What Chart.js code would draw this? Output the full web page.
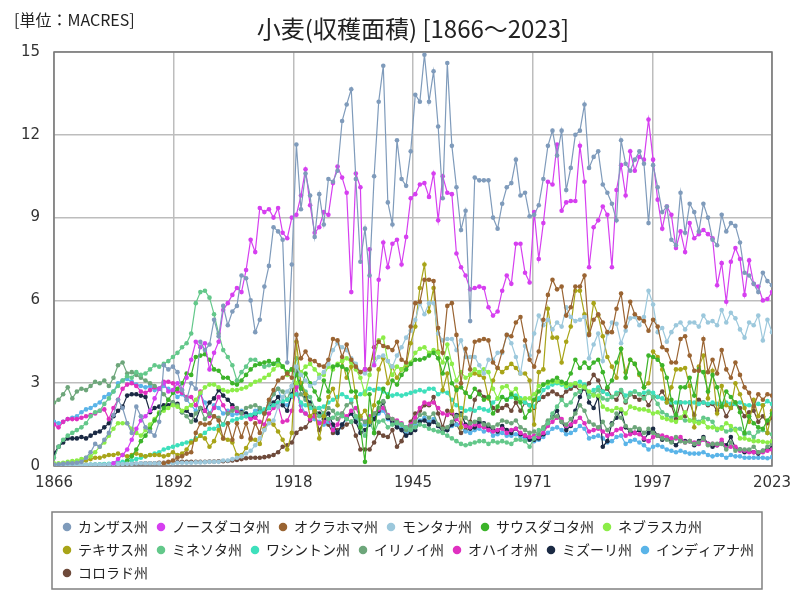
<!DOCTYPE html>
<html>
<head>
<meta charset="utf-8">
<script src="https://cdn.jsdelivr.net/npm/chart.js@4.4.0/dist/chart.umd.min.js"></script>
<style>
  body { margin: 0; background: #fff; }
</style>
</head>
<body>
<canvas id="myChart" width="800" height="600"></canvas>
<script>
const titleText = '小麦(収穫面積) [1866～2023]';
const unitText = '[単位：MACRES]';
const firstYear = 1866;
const lastYear = 2023;
let years = [];
for (let y = firstYear; y <= lastYear; y++) years.push(y);

const names = ['カンザス州', 'ノースダコタ州', 'オクラホマ州', 'モンタナ州', 'サウスダコタ州', 'ネブラスカ州',
    'テキサス州', 'ミネソタ州', 'ワシントン州', 'イリノイ州', 'オハイオ州', 'ミズーリ州', 'インディアナ州', 'コロラド州'];
const colors = ['#7f9bbb', '#d63ff0', '#9a6432', '#9cc8dc', '#3cb42a', '#8ced48',
    '#a8a418', '#63c88a', '#3ee0bc', '#6da67a', '#e030c0', '#1b2a44', '#5ab4e8', '#6e4a3a'];

// one row = 10 years, first row starts 1866
const kansas = [
    0.05, 0.06, 0.08, 0.1, 0.1, 0.12, 0.15, 0.3, 0.5, 0.8,
    0.7, 0.95, 1.2, 1.85, 2.4, 2.1, 1.55, 1.2, 2.15, 1.8,
    1.4, 1.25, 1.1, 1.6, 3.65, 3.5, 3.6, 3.4, 2.75, 2.4,
    3.0, 2.8, 4.5, 4.2, 4.4, 5.3, 4.7, 5.8, 5.1, 5.6,
    5.8, 6.9, 6.8, 6.0, 4.85, 5.3, 6.5, 7.25, 8.65, 8.5,
    8.2, 3.75, 7.3, 11.65, 9.3, 10.6, 9.8, 8.3, 9.85, 8.75,
    10.4, 10.3, 10.7, 12.5, 13.1, 13.65, 10.4, 7.4, 8.6, 6.9,
    10.5, 13.2, 14.5, 9.55, 8.75, 11.8, 10.4, 10.15, 11.4, 13.45,
    13.2, 14.9, 13.2, 14.3, 12.3, 9.7, 14.6, 11.6, 10.1, 8.55,
    9.25, 5.25, 10.45, 10.35, 10.35, 10.35, 9.0, 8.6, 9.5, 10.1,
    10.25, 11.1, 9.8, 9.9, 9.05, 9.1, 9.45, 10.4, 11.6, 12.15,
    11.25, 12.15, 10.0, 10.8, 12.0, 12.15, 13.1, 10.8, 11.2, 11.4,
    10.2, 9.9, 9.5, 8.9, 11.8, 10.95, 10.7, 11.1, 11.4, 10.95,
    8.8, 10.9, 10.1, 9.2, 9.4, 8.2, 8.0, 9.9, 8.45, 9.5,
    9.2, 8.5, 9.5, 9.0, 8.2, 8.0, 9.1, 8.5, 8.8, 8.7,
    8.1, 7.0, 6.9, 6.6, 6.3, 7.0, 6.7, 6.55];
const northDakota = [
    null, null, null, null, null, null, null, null, null, null,
    null, null, null, 0.1, 0.25, 0.4, 0.6, 0.95, 1.35, 1.65,
    1.8, 2.0, 2.45, 2.8, 3.0, 2.7, 2.75, 3.0, 2.75, 3.2,
    3.85, 4.5, 4.3, 4.45, 3.5, 4.1, 4.5, 5.65, 5.9, 6.2,
    6.45, 6.3, 7.1, 8.2, 7.75, 9.35, 9.2, 9.3, 9.0, 9.35,
    8.45, 8.25, 9.0, 9.1, 9.8, 10.75, 9.45, 8.45, 8.65, 9.2,
    9.1, 10.25, 10.85, 10.45, 9.9, 6.3, 10.6, 10.1, 3.5, 7.85,
    3.65, 6.75, 8.1, 7.2, 8.05, 8.2, 7.3, 8.3, 9.7, 9.85,
    10.2, 10.25, 9.75, 10.6, 8.9, 10.5, 9.9, 9.85, 7.7, 7.2,
    6.9, 6.4, 6.45, 6.5, 6.45, 5.75, 5.45, 5.6, 6.35, 6.9,
    6.6, 8.05, 8.05, 7.0, 6.65, 9.2, 7.5, 8.8, 10.3, 10.2,
    11.65, 9.25, 9.55, 9.6, 9.6, 11.6, 10.3, 7.2, 8.65, 8.9,
    9.4, 9.1, 7.2, 10.0, 10.9, 9.8, 11.4, 10.7, 11.2, 11.1,
    12.55, 11.1, 9.65, 8.6, 9.4, 9.1, 7.9, 8.5, 7.75, 8.8,
    8.25, 8.4, 8.55, 8.4, 8.25, 6.55, 7.35, 5.95, 7.4, 7.9,
    7.5, 6.2, 7.45, 6.6, 6.5, 6.0, 6.05, 6.3];
const oklahoma = [
    null, null, null, null, null, null, null, null, null, null,
    null, null, null, null, null, null, null, null, null, null,
    null, null, null, null, 0.1, 0.15, 0.2, 0.3, 0.35, 0.45,
    0.5, 1.2, 1.55, 1.5, 1.55, 1.8, 1.65, 1.0, 1.55, 0.95,
    1.55, 1.05, 1.55, 1.0, 1.55, 1.2, 1.9, 2.4, 2.75, 3.1,
    3.2, 3.35, 3.2, 4.75, 3.9, 4.15, 3.85, 3.8, 3.65, 3.6,
    3.85, 4.6, 4.55, 3.95, 4.4, 3.85, 3.6, 3.4, 3.5, 3.5,
    4.3, 4.5, 4.35, 4.3, 4.2, 4.5, 3.85, 3.75, 5.05, 5.9,
    5.95, 6.75, 6.75, 6.7, 5.0, 4.1, 5.8, 5.9, 4.75, 3.0,
    4.25, 3.5, 4.5, 4.55, 4.6, 4.55, 3.75, 3.55, 4.15, 4.75,
    4.7, 5.2, 5.4, 4.55, 3.85, 3.6, 4.15, 5.3, 6.2, 6.75,
    6.4, 6.5, 5.45, 5.75, 6.5, 6.5, 6.9, 4.75, 5.3, 5.5,
    5.2, 4.85, 4.85, 5.7, 6.25, 5.05, 5.95, 5.5, 5.35, 5.25,
    4.9, 5.3, 5.05, 4.3, 4.2, 3.75, 3.75, 4.6, 4.7, 4.0,
    3.45, 3.45, 4.6, 3.4, 3.85, 3.35, 4.2, 3.5, 3.2, 3.75,
    3.3, 2.85, 2.65, 2.15, 2.6, 2.4, 2.6, 2.55];
const montana = [
    0.02, 0.02, 0.02, 0.03, 0.03, 0.03, 0.04, 0.04, 0.05, 0.05,
    0.05, 0.05, 0.06, 0.06, 0.07, 0.07, 0.08, 0.08, 0.09, 0.1,
    0.1, 0.1, 0.1, 0.1, 0.1, 0.1, 0.1, 0.12, 0.12, 0.12,
    0.12, 0.13, 0.13, 0.14, 0.15, 0.15, 0.15, 0.2, 0.2, 0.25,
    0.3, 0.35, 0.45, 0.55, 0.75, 1.0, 1.3, 1.55, 1.65, 2.15,
    2.5, 2.7, 2.9, 3.6, 3.3, 3.1, 2.9, 3.0, 3.2, 3.4,
    3.7, 4.2, 4.45, 4.3, 4.2, 3.9, 3.7, 3.4, 3.35, 3.5,
    3.7, 3.95, 4.0, 3.8, 3.6, 4.0, 4.3, 4.65, 4.9, 5.3,
    5.9, 5.5, 5.9, 5.9, 4.8, 4.55, 4.6, 4.6, 4.2, 4.55,
    3.95, 3.95, 3.95, 3.65, 3.35, 3.85, 3.85, 4.1, 4.1, 4.75,
    4.45, 3.95, 3.35, 4.35, 4.0, 4.8, 5.45, 5.1, 5.3, 4.95,
    5.2, 5.05, 5.75, 5.4, 5.25, 5.3, 5.4, 3.9, 4.4, 4.8,
    3.8, 4.8, 5.2, 5.15, 4.45, 4.9, 5.35, 5.4, 5.1, 5.4,
    6.35, 5.85, 4.85, 5.0, 4.5, 4.85, 5.1, 5.2, 4.95, 5.2,
    5.2, 5.05, 5.45, 5.2, 5.25, 5.1, 5.65, 5.2, 5.55, 5.35,
    4.95, 4.65, 5.2, 5.1, 5.45, 4.55, 5.3, 4.85];
const southDakota = [
    null, null, null, null, null, null, null, null, null, null,
    null, null, null, null, null, null, 0.2, 0.35, 0.6, 0.9,
    1.1, 1.35, 1.65, 1.9, 2.1, 2.4, 2.65, 2.8, 3.0, 3.35,
    3.3, 3.95, 4.0, 4.05, 3.85, 3.5, 3.45, 3.2, 3.2, 3.0,
    2.95, 3.1, 3.3, 3.5, 3.65, 3.7, 3.75, 3.8, 3.7, 3.85,
    3.6, 3.4, 3.5, 3.3, 2.8, 3.35, 3.0, 2.7, 2.4, 3.1,
    2.7, 3.6, 3.65, 3.6, 3.5, 2.7, 2.7, 1.4, 0.15, 2.6,
    1.2, 2.3, 2.8, 2.5, 3.1, 2.95, 3.3, 3.5, 3.7, 3.85,
    3.85, 3.9, 4.0, 4.1, 3.9, 3.35, 3.9, 3.0, 2.75, 2.85,
    2.65, 2.5, 2.8, 2.6, 2.4, 2.5, 1.9, 2.15, 2.5, 2.4,
    2.6, 2.45, 2.3, 1.75, 2.0, 2.4, 2.7, 2.95, 3.05, 3.1,
    3.2, 3.05, 3.0, 3.35, 3.85, 3.55, 3.75, 3.55, 3.75, 3.85,
    3.4, 2.85, 3.1, 3.75, 4.25, 3.2, 3.85, 3.7, 3.35, 2.85,
    4.0, 3.95, 3.85, 3.65, 3.2, 2.4, 1.85, 2.85, 2.85, 3.2,
    2.55, 3.5, 3.4, 2.7, 3.3, 2.85, 2.15, 2.7, 2.5, 2.3,
    1.95, 1.2, 1.8, 1.55, 1.4, 1.35, 1.65, 1.9];
const nebraska = [
    0.1, 0.1, 0.12, 0.15, 0.18, 0.2, 0.25, 0.3, 0.35, 0.5,
    0.7, 0.85, 1.1, 1.35, 1.55, 1.55, 1.55, 1.35, 1.2, 1.1,
    1.3, 1.5, 1.7, 1.95, 2.0, 2.1, 2.2, 2.15, 2.0, 2.1,
    2.2, 2.4, 2.65, 2.85, 2.95, 2.95, 2.85, 2.75, 2.7, 2.75,
    2.75, 2.8, 2.85, 2.95, 3.05, 3.1, 3.2, 3.3, 3.5, 3.65,
    3.6, 3.3, 3.5, 3.0, 3.4, 3.6, 3.7, 3.5, 3.3, 3.3,
    3.6, 3.5, 3.7, 3.8, 3.9, 3.75, 3.5, 3.2, 2.6, 3.3,
    3.9, 4.55, 4.65, 3.8, 3.3, 3.6, 3.5, 3.7, 3.75, 4.1,
    4.25, 4.3, 4.1, 4.2, 4.1, 3.75, 4.4, 3.7, 3.1, 3.4,
    3.2, 3.3, 3.5, 3.4, 3.5, 3.4, 2.8, 2.45, 2.85, 2.9,
    2.65, 2.8, 2.4, 2.45, 2.45, 2.6, 2.9, 2.95, 3.0, 3.05,
    3.05, 3.0, 2.9, 2.95, 3.0, 2.9, 2.85, 2.7, 2.55, 2.55,
    2.15, 2.05, 2.0, 2.1, 2.05, 1.9, 2.15, 2.1, 2.05, 2.05,
    2.0, 1.9, 1.95, 1.75, 1.7, 1.65, 1.6, 1.75, 1.95, 1.65,
    1.6, 1.55, 1.6, 1.4, 1.4, 1.35, 1.35, 1.55, 1.45, 1.3,
    1.0, 1.0, 0.95, 0.9, 0.9, 0.88, 0.85, 0.9];
const texas = [
    0.05, 0.06, 0.08, 0.1, 0.12, 0.15, 0.15, 0.2, 0.25, 0.3,
    0.3, 0.35, 0.4, 0.4, 0.45, 0.4, 0.35, 0.4, 0.45, 0.4,
    0.35, 0.4, 0.4, 0.4, 0.35, 0.4, 0.5, 0.4, 0.45, 0.6,
    0.85, 0.95, 1.1, 1.0, 0.7, 0.9, 1.3, 1.0, 0.95, 0.85,
    0.4, 0.4, 0.65, 0.95, 0.95, 0.8, 1.35, 1.65, 1.5, 1.25,
    0.95, 0.6, 1.2, 4.5, 3.0, 2.6, 1.8, 2.0, 1.0, 1.8,
    2.5, 2.8, 2.2, 3.8, 3.2, 3.6, 2.5, 1.8, 2.0, 1.6,
    2.2, 3.5, 3.9, 3.0, 3.6, 3.2, 3.5, 3.65, 4.45, 5.05,
    6.45, 7.3, 5.6, 6.45, 4.15, 2.75, 3.35, 2.0, 2.85, 1.4,
    2.65, 3.3, 3.35, 3.3, 3.2, 2.45, 3.1, 3.55, 3.4, 3.55,
    3.7, 3.55, 3.35, 3.35, 3.1, 1.5, 3.4, 3.5, 5.7, 4.65,
    4.65, 3.75, 4.5, 5.05, 6.35, 6.35, 5.5, 4.8, 5.9, 5.45,
    4.7, 3.95, 3.6, 3.2, 4.25, 3.4, 3.85, 3.7, 3.3, 2.85,
    3.0, 4.15, 3.95, 3.5, 2.3, 2.85, 3.5, 3.5, 3.55, 2.9,
    1.4, 3.6, 4.0, 2.45, 3.45, 1.9, 2.9, 2.2, 2.1, 3.0,
    2.6, 2.1, 1.6, 2.4, 1.8, 2.2, 1.2, 2.0];
const minnesota = [
    0.3, 0.7, 0.95, 1.1, 1.2, 1.3, 1.4, 1.55, 1.8, 1.95,
    2.0, 2.25, 2.45, 2.7, 2.9, 3.1, 3.25, 3.2, 3.4, 3.3,
    3.35, 3.5, 3.65, 3.6, 3.7, 3.8, 3.95, 4.1, 4.3, 4.45,
    4.8, 5.9, 6.3, 6.35, 6.1, 5.5, 4.8, 4.2, 3.95, 3.65,
    3.1, 3.4, 3.6, 3.85, 3.85, 3.7, 3.6, 3.65, 3.7, 3.75,
    3.6, 3.4, 3.5, 3.9, 3.0, 2.7, 2.5, 2.1, 1.8, 1.9,
    1.7, 1.75, 1.9, 1.8, 1.7, 1.6, 1.8, 1.5, 1.1, 1.6,
    1.2, 1.6, 1.65, 1.4, 1.5, 1.55, 1.5, 1.4, 1.3, 1.4,
    1.5, 1.45, 1.35, 1.3, 1.25, 1.2, 1.1, 1.0, 0.9, 0.8,
    0.75, 0.8, 0.85, 0.9, 0.9, 0.8, 0.9, 0.85, 0.9, 0.85,
    0.8, 0.95, 0.95, 0.9, 0.7, 1.0, 1.3, 1.35, 1.55, 1.9,
    2.15, 2.4, 2.2, 2.3, 2.6, 2.7, 2.9, 2.5, 2.6, 2.75,
    2.45, 2.4, 2.5, 2.6, 2.75, 2.35, 2.6, 2.7, 2.6, 2.45,
    2.65, 2.5, 2.25, 1.95, 1.85, 1.75, 1.85, 1.75, 1.65, 1.65,
    1.7, 1.6, 1.75, 1.7, 1.6, 1.3, 1.4, 1.25, 1.3, 1.35,
    1.35, 1.15, 1.2, 1.05, 1.25, 1.3, 1.2, 1.15];
const washington = [
    0.01, 0.01, 0.02, 0.02, 0.02, 0.03, 0.03, 0.04, 0.05, 0.05,
    0.06, 0.07, 0.08, 0.1, 0.12, 0.15, 0.18, 0.2, 0.25, 0.3,
    0.35, 0.4, 0.45, 0.5, 0.6, 0.65, 0.7, 0.75, 0.8, 0.85,
    0.9, 1.0, 1.1, 1.2, 1.35, 1.35, 1.45, 1.5, 1.55, 1.65,
    1.7, 1.75, 1.8, 1.85, 1.9, 1.95, 2.05, 2.1, 2.2, 2.3,
    2.35, 2.4, 2.55, 2.6, 2.3, 2.2, 2.1, 2.0, 2.1, 2.15,
    2.3, 2.4, 2.5, 2.6, 2.5, 2.4, 2.5, 2.6, 2.7, 2.8,
    2.75, 2.8, 2.7, 2.6, 2.55, 2.6, 2.55, 2.6, 2.65, 2.7,
    2.75, 2.7, 2.8, 2.8, 2.6, 2.7, 2.65, 2.4, 2.2, 2.1,
    2.0, 2.05, 2.0, 2.1, 2.05, 2.0, 2.3, 2.45, 2.5, 2.4,
    2.5, 2.55, 2.45, 2.3, 2.2, 2.15, 2.45, 2.75, 2.85, 2.95,
    3.0, 2.95, 2.85, 2.9, 3.0, 3.05, 2.95, 2.65, 2.75, 2.85,
    2.7, 2.6, 2.5, 2.65, 2.75, 2.55, 2.65, 2.7, 2.6, 2.65,
    2.7, 2.65, 2.5, 2.45, 2.3, 2.3, 2.3, 2.3, 2.3, 2.3,
    2.3, 2.25, 2.3, 2.25, 2.3, 2.25, 2.25, 2.3, 2.25, 2.25,
    2.3, 2.2, 2.2, 2.2, 2.25, 2.2, 2.35, 2.25];
const illinois = [
    2.3, 2.4, 2.6, 2.85, 2.45, 2.7, 2.8, 2.75, 2.9, 3.05,
    3.0, 3.1, 2.9, 3.2, 3.65, 3.75, 3.35, 3.4, 3.3, 3.2,
    3.1, 3.0, 2.9, 2.8, 2.6, 2.4, 2.3, 2.2, 1.95, 1.8,
    1.6, 1.9, 2.1, 1.7, 1.9, 1.8, 1.75, 1.5, 1.9, 2.0,
    2.1, 1.9, 2.1, 2.15, 2.2, 2.1, 1.9, 2.3, 2.6, 2.8,
    2.7, 2.4, 2.9, 3.5, 2.6, 2.4, 2.2, 2.0, 2.1, 1.9,
    2.1, 2.0, 1.7, 1.9, 2.2, 2.3, 1.8, 1.7, 1.6, 1.7,
    1.9, 2.1, 2.35, 1.8, 1.7, 1.6, 1.5, 1.3, 1.45, 1.6,
    1.85, 1.9, 1.75, 1.9, 1.5, 1.35, 1.4, 1.6, 1.8, 1.85,
    1.75, 1.55, 1.6, 1.7, 1.5, 1.5, 1.4, 1.5, 1.65, 1.6,
    1.55, 1.65, 1.4, 1.3, 1.2, 1.25, 1.15, 1.4, 1.65, 1.75,
    1.8, 1.6, 1.5, 1.7, 1.9, 2.2, 2.0, 1.6, 1.5, 1.4,
    1.6, 1.3, 1.5, 1.9, 1.75, 1.45, 1.3, 1.4, 1.35, 1.2,
    1.35, 1.2, 1.1, 1.0, 0.95, 0.85, 1.05, 0.9, 0.85, 0.9,
    0.8, 0.85, 1.0, 0.75, 0.8, 0.8, 0.8, 0.6, 0.85, 0.55,
    0.6, 0.6, 0.6, 0.7, 0.5, 0.55, 0.7, 0.8];
const ohio = [
    1.5, 1.4, 1.6, 1.7, 1.7, 1.7, 1.75, 1.8, 1.85, 1.9,
    2.0, 2.05, 1.7, 2.1, 2.4, 2.8, 2.95, 3.0, 2.9, 2.7,
    2.65, 2.75, 2.85, 2.8, 3.05, 3.05, 3.0, 2.7, 2.65, 2.5,
    2.5, 2.2, 2.7, 2.0, 1.8, 2.1, 2.5, 2.2, 1.9, 2.1,
    2.0, 1.9, 1.8, 1.7, 1.75, 1.6, 1.5, 1.9, 2.1, 2.2,
    1.6, 1.65, 2.0, 2.85, 2.0, 1.9, 1.7, 1.8, 1.55, 1.6,
    1.7, 1.3, 1.5, 1.9, 1.8, 2.0, 2.1, 1.75, 1.6, 1.8,
    1.9, 2.05, 2.1, 1.85, 1.7, 1.65, 1.55, 1.4, 1.5, 1.75,
    2.1, 2.3, 2.25, 2.3, 2.1, 1.9, 1.85, 1.95, 1.7, 1.55,
    1.45, 1.4, 1.5, 1.45, 1.4, 1.3, 1.25, 1.3, 1.35, 1.2,
    1.3, 1.35, 1.2, 1.1, 1.05, 1.1, 1.05, 1.2, 1.45, 1.6,
    1.75, 1.7, 1.45, 1.5, 1.6, 1.75, 1.55, 1.25, 1.3, 1.35,
    1.25, 1.1, 1.15, 1.3, 1.35, 1.1, 1.15, 1.2, 1.15, 1.0,
    0.9, 1.05, 1.1, 1.1, 1.05, 1.0, 1.0, 1.05, 0.85, 0.9,
    0.85, 0.8, 0.95, 0.8, 0.8, 0.75, 0.95, 0.65, 0.7, 0.7,
    0.55, 0.55, 0.5, 0.5, 0.5, 0.5, 0.55, 0.6];
const missouri = [
    0.45, 0.7, 0.85, 1.0, 1.0, 1.0, 1.05, 1.0, 1.1, 1.2,
    1.25, 1.4, 1.55, 1.8, 2.0, 2.15, 2.55, 2.6, 2.6, 2.55,
    2.5, 1.95, 2.1, 2.15, 2.2, 2.2, 2.3, 2.25, 1.95, 2.0,
    1.85, 1.65, 2.1, 2.0, 2.3, 2.45, 2.75, 2.55, 2.4, 2.2,
    2.0, 1.95, 1.9, 1.75, 1.8, 2.0, 1.95, 2.1, 2.3, 2.5,
    2.2, 2.0, 2.6, 3.4, 2.9, 2.5, 2.3, 2.0, 1.9, 1.7,
    1.9, 1.5, 1.2, 1.5, 1.75, 1.9, 1.6, 1.2, 1.3, 1.5,
    1.7, 2.0, 2.3, 1.75, 1.6, 1.4, 1.3, 1.1, 1.2, 1.3,
    1.6, 1.65, 1.5, 1.6, 1.45, 1.25, 1.3, 1.5, 1.85, 1.9,
    1.5, 1.35, 1.4, 1.6, 1.55, 1.4, 1.35, 1.25, 1.45, 1.3,
    1.2, 1.35, 1.15, 1.1, 0.95, 0.95, 1.0, 1.15, 1.6, 1.8,
    2.0, 1.6, 1.3, 1.45, 2.0, 2.5, 2.9, 2.3, 2.1, 2.5,
    0.7, 0.9, 1.55, 1.75, 2.0, 1.4, 1.25, 1.2, 1.3, 0.95,
    1.2, 1.35, 1.1, 0.95, 1.0, 0.9, 0.75, 0.95, 0.9, 0.9,
    0.75, 0.9, 1.05, 0.8, 0.7, 0.75, 0.85, 0.75, 1.05, 0.65,
    0.6, 0.5, 0.55, 0.5, 0.45, 0.55, 0.6, 0.65];
const indiana = [
    1.6, 1.55, 1.6, 1.7, 1.75, 1.8, 1.95, 2.05, 2.1, 2.2,
    2.3, 2.5, 2.6, 2.7, 3.0, 3.1, 3.15, 3.05, 2.95, 2.9,
    2.85, 2.9, 2.75, 2.8, 2.9, 2.8, 2.7, 2.5, 2.6, 2.4,
    2.2, 2.0, 2.6, 2.3, 1.9, 2.2, 2.1, 1.9, 2.0, 1.85,
    1.9, 2.0, 1.9, 1.85, 2.0, 2.1, 1.9, 2.2, 2.6, 2.8,
    2.3, 2.2, 2.5, 2.9, 2.2, 1.9, 1.8, 1.7, 1.6, 1.5,
    1.6, 1.4, 1.2, 1.5, 1.7, 1.9, 1.7, 1.4, 1.5, 1.6,
    1.75, 1.9, 2.0, 1.7, 1.55, 1.5, 1.35, 1.2, 1.3, 1.5,
    1.65, 1.75, 1.6, 1.7, 1.45, 1.25, 1.3, 1.45, 1.5, 1.4,
    1.25, 1.2, 1.3, 1.35, 1.25, 1.3, 1.1, 1.15, 1.2, 1.1,
    1.1, 1.15, 1.05, 1.0, 0.95, 0.9, 0.95, 1.05, 1.2, 1.35,
    1.4, 1.3, 1.15, 1.2, 1.3, 1.45, 1.35, 1.0, 1.05, 1.1,
    1.0, 0.85, 0.9, 1.05, 1.1, 0.8, 0.9, 0.95, 0.85, 0.75,
    0.6, 0.7, 0.75, 0.7, 0.6, 0.55, 0.5, 0.55, 0.5, 0.45,
    0.45, 0.45, 0.5, 0.4, 0.35, 0.4, 0.4, 0.3, 0.4, 0.35,
    0.35, 0.3, 0.3, 0.3, 0.3, 0.3, 0.28, 0.32];
const colorado = [
    0.01, 0.01, 0.01, 0.02, 0.02, 0.02, 0.03, 0.03, 0.03, 0.04,
    0.04, 0.05, 0.05, 0.06, 0.06, 0.07, 0.07, 0.08, 0.08, 0.09,
    0.1, 0.1, 0.1, 0.12, 0.12, 0.12, 0.13, 0.14, 0.15, 0.15,
    0.15, 0.15, 0.15, 0.15, 0.16, 0.16, 0.17, 0.17, 0.18, 0.2,
    0.22, 0.25, 0.28, 0.3, 0.3, 0.3, 0.32, 0.35, 0.4, 0.5,
    0.7, 0.75, 0.85, 1.2, 1.35, 1.4, 1.65, 1.9, 1.3, 1.6,
    1.5, 1.2, 1.3, 1.4, 1.5, 1.6, 1.1, 0.6, 0.6, 0.6,
    0.85, 1.2, 1.1, 1.05, 1.3, 0.7, 0.9, 1.3, 1.6, 1.9,
    2.0, 2.2, 2.2, 2.5, 1.9, 1.4, 2.0, 1.9, 1.5, 1.2,
    1.3, 1.6, 2.4, 2.7, 2.5, 2.5, 2.1, 2.0, 2.1, 2.2,
    2.0, 2.3, 2.0, 2.3, 2.2, 2.1, 2.4, 2.5, 2.6, 2.7,
    2.6, 2.5, 2.7, 2.8, 2.9, 2.7, 2.8, 3.0, 3.3, 3.1,
    2.7, 2.8, 2.5, 2.4, 2.7, 2.3, 2.6, 2.5, 2.4, 2.5,
    2.2, 2.5, 2.5, 2.7, 2.4, 2.2, 1.7, 2.3, 1.8, 2.3,
    1.85, 2.4, 2.3, 2.2, 2.25, 2.0, 2.2, 1.8, 2.1, 2.3,
    2.1, 1.8, 1.95, 2.0, 1.6, 1.8, 1.55, 1.75];

const series = [kansas, northDakota, oklahoma, montana, southDakota, nebraska,
    texas, minnesota, washington, illinois, ohio, missouri, indiana, colorado];

const datasets = series.map((vals, i) => ({
    label: names[i],
    data: vals.map((v, j) => ({x: years[j], y: v})),
    borderColor: colors[i],
    backgroundColor: colors[i],
    borderWidth: 1.2,
    pointRadius: 2.3,
    pointBorderWidth: 0,
    pointBackgroundColor: colors[i],
}));

// frame, legend box, title and unit text
const decor = {
    id: 'decor',
    beforeDatasetsDraw(chart) {
        const c = chart.ctx, a = chart.chartArea;
        c.save();
        c.strokeStyle = '#777';
        c.lineWidth = 1.5;
        c.strokeRect(a.left, a.top, a.right - a.left, a.bottom - a.top);
        c.restore();
    },
    afterDraw(chart) {
        const c = chart.ctx, a = chart.chartArea, lg = chart.legend;
        c.save();
        let right = 0;
        lg.legendHitBoxes.forEach(h => { right = Math.max(right, h.left + h.width); });
        c.strokeStyle = '#808080';
        c.lineWidth = 1.5;
        c.strokeRect(lg.left - 2, lg.top + 1, right - lg.left + 10, lg.height - 2);
        c.fillStyle = '#222';
        c.textBaseline = 'middle';
        c.textAlign = 'center';
        c.font = '24px "Noto Sans CJK JP"';
        c.fillText(titleText, (a.left + a.right) / 2, 29);
        c.textAlign = 'left';
        c.font = '16px "Noto Sans CJK JP"';
        c.fillText(unitText, 14, 20);
        c.restore();
    }
};

const ctx = document.getElementById('myChart');
let myChart = new Chart(ctx, {
    type: 'line',
    data: { datasets: datasets },
    options: {
        responsive: false,
        animation: false,
        devicePixelRatio: 1,
        layout: { padding: { top: 52, right: 28, bottom: 10, left: 0 } },
        scales: {
            x: {
                type: 'linear',
                min: firstYear,
                max: lastYear,
                afterBuildTicks: (s) => {
                    s.ticks = [0, 1, 2, 3, 4, 5, 6].map(i => ({ value: firstYear + i * (lastYear - firstYear) / 6 }));
                },
                afterFit: (s) => { s.height = 45; },
                grid: { color: '#bdbdbd', lineWidth: 1.5, drawTicks: false },
                border: { display: false },
                ticks: {
                    autoSkip: false, maxRotation: 0, padding: 8, color: '#333',
                    font: { family: 'DejaVu Sans', size: 15 },
                    callback: (v) => Math.round(v)
                }
            },
            y: {
                min: 0,
                max: 15,
                afterFit: (s) => { s.width = 54; },
                grid: { color: '#bdbdbd', lineWidth: 1.5, drawTicks: false },
                border: { display: false },
                ticks: {
                    stepSize: 3, padding: 14, color: '#333',
                    font: { family: 'DejaVu Sans', size: 15 }
                }
            }
        },
        plugins: {
            title: { display: false },
            tooltip: { enabled: false },
            legend: {
                position: 'bottom',
                align: 'start',
                fullSize: false,
                labels: {
                    usePointStyle: true,
                    pointStyle: 'circle',
                    boxWidth: 8,
                    boxHeight: 6,
                    padding: 9,
                    color: '#222',
                    font: { family: 'Noto Sans CJK JP', size: 14 }
                }
            }
        }
    },
    plugins: [decor]
});
</script>
</body>
</html>
